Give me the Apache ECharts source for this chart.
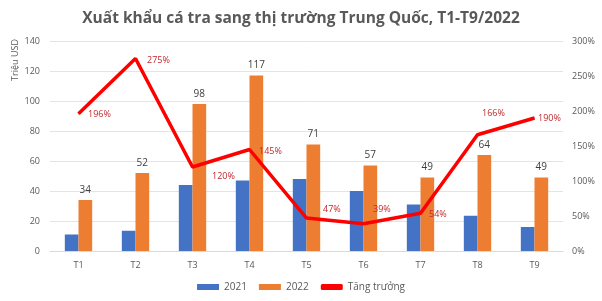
<!DOCTYPE html>
<html>
<head>
<meta charset="utf-8">
<script src="https://cdn.jsdelivr.net/npm/echarts@6/dist/echarts.min.js"></script>
<style>
html, body { margin: 0; padding: 0; background: #fff; }
#chart { width: 602px; height: 301px; }
</style>
</head>
<body>
<div id="chart"></div>
<script>
var months = ['T1', 'T2', 'T3', 'T4', 'T5', 'T6', 'T7', 'T8', 'T9'];
var v2021 = [11, 13.5, 44, 47, 48, 40, 31, 23.5, 16];
var v2022 = [34, 52, 98, 117, 71, 57, 49, 64, 49];
var growth = [196, 275, 120, 145, 47, 39, 54, 166, 190];

var myChart = echarts.init(document.getElementById('chart'));
var font = 'Open Sans';

// where each growth label sits relative to its point
var nudge = [[10, 1], [12, 2], [20, 10], [10, 2], [17, -8], [10, -14], [9, 2], [5, -21], [4, 1]];
var growthData = growth.map(function (g, i) {
    return { value: g, label: { position: nudge[i] } };
});

var option = {
    backgroundColor: '#fff',
    animation: false,
    textStyle: { fontFamily: font },
    title: {
        text: 'Xuất khẩu cá tra sang thị trường Trung Quốc, T1-T9/2022',
        left: 'center',
        top: 6,
        textStyle: { fontSize: 15.5, fontWeight: 'bold', color: '#595959', fontFamily: font }
    },
    graphic: [{
        type: 'text',
        x: 15, y: 60,
        rotation: Math.PI / 2,
        style: {
            text: 'Triệu USD', fontSize: 9, fill: '#595959', fontFamily: font,
            align: 'center', verticalAlign: 'middle'
        }
    }],
    grid: { left: 50, right: 39, top: 41, bottom: 50, outerBoundsMode: 'none' },
    legend: {
        bottom: 4,
        left: 'center',
        itemWidth: 22,
        itemHeight: 6,
        itemGap: 12,
        textStyle: { fontSize: 10, color: '#595959' },
        data: [
            { name: '2021', icon: 'rect' },
            { name: '2022', icon: 'rect' },
            { name: 'Tăng trưởng', icon: 'roundRect', itemStyle: { color: '#ff0000' } }
        ]
    },
    xAxis: {
        type: 'category',
        data: months,
        axisTick: { show: false },
        axisLine: { lineStyle: { color: '#d9d9d9' } },
        axisLabel: { fontSize: 9, color: '#595959', margin: 10 }
    },
    yAxis: [{
        type: 'value',
        min: 0, max: 140, interval: 20,
        axisLabel: { fontSize: 9, color: '#595959', margin: 10 },
        splitLine: { lineStyle: { color: '#e4e4e4' } }
    }, {
        type: 'value',
        min: 0, max: 300, interval: 50,
        axisLabel: { fontSize: 9, color: '#595959', formatter: '{value}%', margin: 9 },
        splitLine: { show: false }
    }],
    series: [{
        name: '2021',
        type: 'bar',
        data: v2021,
        barGap: '0%',
        barCategoryGap: '52%',
        itemStyle: { color: '#4472c4' }
    }, {
        name: '2022',
        type: 'bar',
        data: v2022,
        itemStyle: { color: '#ed7d31' },
        label: { show: true, position: 'top', fontSize: 10, color: '#404040', distance: 5 }
    }, {
        name: 'Tăng trưởng',
        type: 'line',
        yAxisIndex: 1,
        data: growthData,
        symbol: 'circle',
        symbolSize: 1,
        showSymbol: true,
        lineStyle: { color: '#ff0000', width: 3.5 },
        itemStyle: { color: '#ff0000' },
        label: {
            show: true, align: 'left', verticalAlign: 'middle',
            fontSize: 9, color: '#c0282d', formatter: '{c}%'
        },
        labelLayout: { hideOverlap: false },
        z: 5
    }]
};
myChart.setOption(option);
</script>
</body>
</html>
